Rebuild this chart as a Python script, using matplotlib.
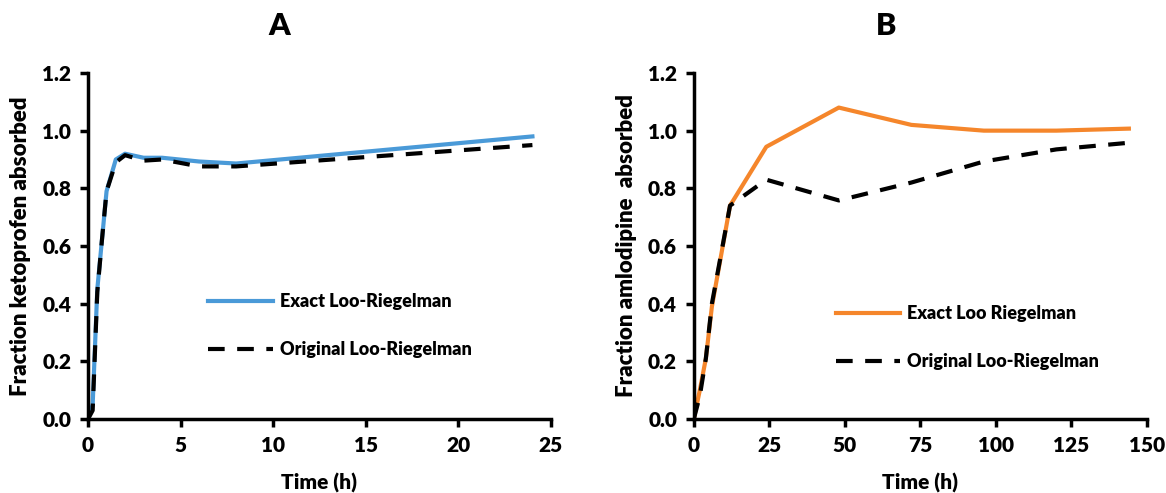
import matplotlib.pyplot as plt

plt.rcParams['font.family'] = ['Lato', 'DejaVu Sans']
plt.rcParams['font.weight'] = 'heavy'

# Panel A - ketoprofen
time_a = [0, 0.25, 0.5, 0.75, 1, 1.5, 2, 3, 4, 6, 8, 24]
exact_a = [0, 0.05, 0.45, 0.62, 0.79, 0.90, 0.92, 0.906, 0.906, 0.893, 0.886, 0.98]
orig_a = [0, 0.03, 0.44, 0.62, 0.79, 0.89, 0.915, 0.896, 0.90, 0.876, 0.876, 0.95]

# Panel B - amlodipine
time_b = [0, 2, 4, 6, 12, 24, 48, 72, 96, 120, 144]
exact_b = [0, 0.10, 0.21, 0.39, 0.74, 0.944, 1.08, 1.02, 1.0, 1.0, 1.007]
orig_b = [0, 0.08, 0.21, 0.40, 0.74, 0.83, 0.758, 0.82, 0.893, 0.935, 0.958]

W = 'heavy'

fig = plt.figure(figsize=(11.66, 4.93), dpi=100)
ax_a = fig.add_axes([0.0755, 0.150, 0.397, 0.702])
ax_b = fig.add_axes([0.595, 0.150, 0.3887, 0.702])


def style(ax, xmax, xstep, ylabel, title, title_x):
    ax.set_xlim(0, xmax)
    ax.set_ylim(0, 1.2)
    ax.set_xticks(range(0, xmax + 1, xstep))
    ax.set_yticks([0, 0.2, 0.4, 0.6, 0.8, 1.0, 1.2])
    ax.set_yticklabels(['%.1f' % v for v in ax.get_yticks()])
    for s in ['top', 'right']:
        ax.spines[s].set_visible(False)
    for s in ['left', 'bottom']:
        ax.spines[s].set_linewidth(2.5)
    ax.tick_params(direction='out', length=6, width=2.5, labelsize=15, pad=6)
    for lab in ax.get_xticklabels() + ax.get_yticklabels():
        lab.set_fontweight(W)
    ax.set_xlabel('Time (h)', fontsize=15, fontweight=W, labelpad=13)
    ax.set_ylabel(ylabel, fontsize=16, fontweight=W, labelpad=8)
    # panel letter sits a bit left of the axes centre
    ax.text(title_x, 1.135, title, transform=ax.transAxes, ha='center',
            va='center', fontsize=22, fontweight=W)


leg_kw = dict(loc='center left', frameon=False, prop={'weight': W, 'size': 13},
              handlelength=3.55, labelspacing=1.7, handletextpad=0.4)

ax_a.plot(time_a, exact_a, color='#4a9ad8', lw=3, label='Exact Loo-Riegelman')
ax_a.plot(time_a, orig_a, color='black', lw=3, ls=(0, (4, 3)),
          label='Original Loo-Riegelman')
style(ax_a, 25, 5, 'Fraction ketoprofen absorbed', 'A', 0.413)
ax_a.legend(bbox_to_anchor=(0.225, 0.27), **leg_kw)

ax_b.plot(time_b, exact_b, color='#f5862b', lw=3, label='Exact Loo Riegelman')
ax_b.plot(time_b, orig_b, color='black', lw=3, ls=(0, (4, 3)),
          label='Original Loo-Riegelman')
style(ax_b, 150, 25, 'Fraction amlodipine  absorbed', 'B', 0.424)
ax_b.legend(bbox_to_anchor=(0.278, 0.235), **leg_kw)

fig.savefig('out.png', dpi=100)
